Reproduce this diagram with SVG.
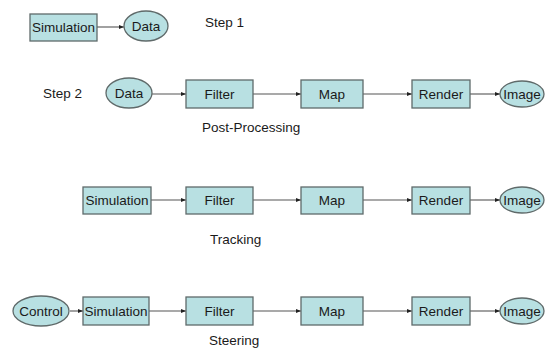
<svg xmlns="http://www.w3.org/2000/svg" width="550" height="352" viewBox="0 0 550 352">
<defs>
<style>
.box{fill:#b8e0e2;stroke:#5f6a6a;stroke-width:1.3}
.ell{fill:#b8e0e2;stroke:#5f6a6a;stroke-width:1.3}
.lbl{font-family:"Liberation Sans",Arial,sans-serif;font-size:13.5px;fill:#1a1a1a;text-anchor:middle}
.cap{font-family:"Liberation Sans",Arial,sans-serif;font-size:13.5px;fill:#1a1a1a}
.con{stroke:#555;stroke-width:1.1;fill:none;marker-end:url(#ah)}
</style>
<marker id="ah" markerWidth="5" markerHeight="4" refX="5" refY="2" orient="auto" markerUnits="userSpaceOnUse">
<path d="M0,0 L5,2 L0,4 Z" fill="#222"/>
</marker>
</defs>
<rect width="550" height="352" fill="#fff"/>
<g id="connectors">
<line class="con" x1="97" y1="27" x2="124" y2="27"/>
<line class="con" x1="152" y1="94" x2="186" y2="94"/>
<line class="con" x1="253" y1="94" x2="301" y2="94"/>
<line class="con" x1="363" y1="94" x2="412" y2="94"/>
<line class="con" x1="470" y1="94" x2="500" y2="94"/>
<line class="con" x1="151" y1="200" x2="186" y2="200"/>
<line class="con" x1="253" y1="200" x2="301" y2="200"/>
<line class="con" x1="363" y1="200" x2="412" y2="200"/>
<line class="con" x1="470" y1="200" x2="500" y2="200"/>
<line class="con" x1="70" y1="311" x2="83" y2="311"/>
<line class="con" x1="149" y1="311" x2="186" y2="311"/>
<line class="con" x1="253" y1="311" x2="301" y2="311"/>
<line class="con" x1="363" y1="311" x2="412" y2="311"/>
<line class="con" x1="470" y1="311" x2="500" y2="311"/>
</g>
<g id="r1-sim"><rect class="box" x="30" y="14" width="67" height="27"/><text class="lbl" x="63.5" y="32">Simulation</text></g>
<g id="r1-data"><ellipse class="ell" cx="146" cy="26" rx="22" ry="15"/><text class="lbl" x="146" y="31">Data</text></g>
<g id="step1"><text class="cap" x="205" y="27">Step 1</text></g>
<g id="step2"><text class="cap" x="43" y="98">Step 2</text></g>
<g id="r2-data"><ellipse class="ell" cx="129" cy="93" rx="23" ry="15"/><text class="lbl" x="129" y="98">Data</text></g>
<g id="r2-filter"><rect class="box" x="186" y="80" width="67" height="28"/><text class="lbl" x="219.5" y="99">Filter</text></g>
<g id="r2-map"><rect class="box" x="301" y="80" width="62" height="28"/><text class="lbl" x="332" y="99">Map</text></g>
<g id="r2-render"><rect class="box" x="412" y="80" width="58" height="28"/><text class="lbl" x="441" y="99">Render</text></g>
<g id="r2-image"><ellipse class="ell" cx="522" cy="94" rx="22" ry="13"/><text class="lbl" x="522" y="99">Image</text></g>
<g id="cap-post"><text class="cap" x="202" y="132">Post-Processing</text></g>
<g id="r3-sim"><rect class="box" x="83" y="187" width="68" height="27"/><text class="lbl" x="117" y="205">Simulation</text></g>
<g id="r3-filter"><rect class="box" x="186" y="187" width="67" height="27"/><text class="lbl" x="219.5" y="205">Filter</text></g>
<g id="r3-map"><rect class="box" x="301" y="187" width="62" height="27"/><text class="lbl" x="332" y="205">Map</text></g>
<g id="r3-render"><rect class="box" x="412" y="187" width="58" height="27"/><text class="lbl" x="441" y="205">Render</text></g>
<g id="r3-image"><ellipse class="ell" cx="522" cy="200" rx="22" ry="13"/><text class="lbl" x="522" y="205">Image</text></g>
<g id="cap-track"><text class="cap" x="210" y="244">Tracking</text></g>
<g id="r4-control"><ellipse class="ell" cx="41" cy="311" rx="28" ry="15"/><text class="lbl" x="41" y="316">Control</text></g>
<g id="r4-sim"><rect class="box" x="83" y="297" width="66" height="28"/><text class="lbl" x="116" y="316">Simulation</text></g>
<g id="r4-filter"><rect class="box" x="186" y="297" width="67" height="28"/><text class="lbl" x="219.5" y="316">Filter</text></g>
<g id="r4-map"><rect class="box" x="301" y="297" width="62" height="28"/><text class="lbl" x="332" y="316">Map</text></g>
<g id="r4-render"><rect class="box" x="412" y="297" width="58" height="28"/><text class="lbl" x="441" y="316">Render</text></g>
<g id="r4-image"><ellipse class="ell" cx="522" cy="311" rx="22" ry="13"/><text class="lbl" x="522" y="316">Image</text></g>
<g id="cap-steer"><text class="cap" x="209" y="345">Steering</text></g>
</svg>
